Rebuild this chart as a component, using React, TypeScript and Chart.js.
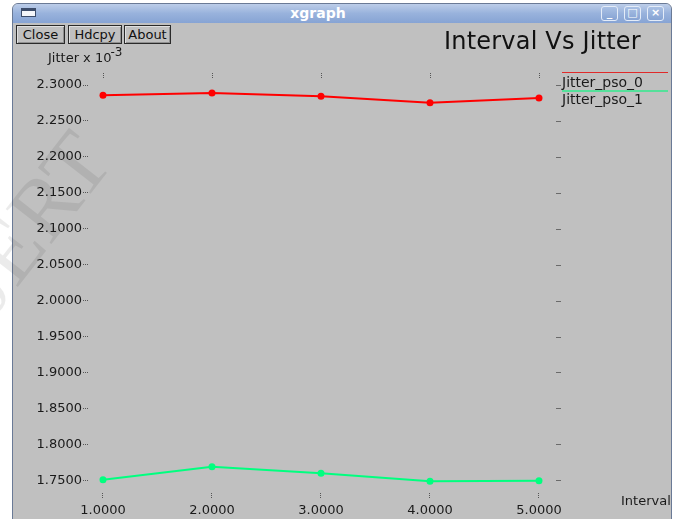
import React, { useEffect, useRef } from "react";
import { Chart, registerables } from "chart.js";

Chart.register(...registerables);

// ---- data ----
const intervals = [1, 2, 3, 4, 5];
const jitterPso0 = [2.2857, 2.2889, 2.2843, 2.2754, 2.2819];
const jitterPso1 = [1.7508, 1.7689, 1.7597, 1.7486, 1.7494];
const seriesNames = ["Jitter_pso_0", "Jitter_pso_1"];
const seriesColors = ["#ff0000", "#00ff7f"];
const xTicks = [1, 2, 3, 4, 5];
const yTicks = [1.75, 1.8, 1.85, 1.9, 1.95, 2.0, 2.05, 2.1, 2.15, 2.2, 2.25, 2.3];

const FONT = "'DejaVu Sans', 'Liberation Sans', sans-serif";

const frameTicks = {
  id: "frameTicks",
  afterDraw(chart: any) {
    const { ctx, chartArea, scales } = chart;
    ctx.save();
    ctx.lineWidth = 1;
    ctx.strokeStyle = "#555";
    ctx.setLineDash([1, 1]);
    for (const v of xTicks) {
      const px = Math.round(scales.x.getPixelForValue(v)) + 0.5;
      ctx.beginPath();
      ctx.moveTo(px, chartArea.top);
      ctx.lineTo(px, chartArea.top + 5);
      ctx.stroke();
    }
    ctx.strokeStyle = "#6a6a6a";
    ctx.setLineDash([]);
    for (const v of yTicks) {
      const py = Math.round(scales.y.getPixelForValue(v)) + 0.5;
      ctx.beginPath();
      ctx.moveTo(chartArea.right + 1, py);
      ctx.lineTo(chartArea.right + 6, py);
      ctx.stroke();
    }
    ctx.restore();
  },
};

function Plot() {
  const ref = useRef<HTMLCanvasElement | null>(null);
  useEffect(() => {
    if (!ref.current) return;
    const series = [jitterPso0, jitterPso1];
    const chart = new Chart(ref.current, {
      type: "line",
      data: {
        datasets: series.map((vals, si) => ({
          label: seriesNames[si],
          data: intervals.map((x, i) => ({ x, y: vals[i] })),
          borderColor: seriesColors[si],
          backgroundColor: seriesColors[si],
          borderWidth: 2,
          pointRadius: 3.5,
          pointBorderWidth: 0,
          tension: 0,
        })),
      },
      options: {
        responsive: false,
        animation: false,
        events: [],
        layout: { padding: { left: 0, top: 51, right: 115, bottom: 0 } },
        plugins: {
          legend: { display: false },
          title: { display: false },
          tooltip: { enabled: false },
        },
        scales: {
          x: {
            type: "linear",
            min: 0.87156,
            max: 5.14679,
            afterBuildTicks: (s: any) => {
              s.ticks = xTicks.map((v) => ({ value: v }));
            },
            afterFit: (s: any) => {
              s.height = 26;
            },
            ticks: {
              callback: (v: any) => Number(v).toFixed(4),
              font: { family: FONT, size: 13 },
              color: "#1a1a1a",
              padding: 4,
              maxRotation: 0,
              autoSkip: false,
            },
            grid: {
              drawOnChartArea: false,
              drawTicks: true,
              tickLength: 6,
              tickColor: "#555",
              tickBorderDash: [1, 1],
            },
            border: { display: false },
          },
          y: {
            type: "linear",
            min: 1.73233,
            max: 2.3167,
            afterBuildTicks: (s: any) => {
              s.ticks = yTicks.map((v) => ({ value: v }));
            },
            afterFit: (s: any) => {
              s.width = 76;
            },
            ticks: {
              callback: (v: any) => Number(v).toFixed(4),
              font: { family: FONT, size: 13 },
              color: "#1a1a1a",
              padding: 1,
              autoSkip: false,
            },
            grid: {
              drawOnChartArea: false,
              drawTicks: true,
              tickLength: 6,
              tickColor: "#555",
              tickBorderDash: [1, 1],
            },
            border: { display: false },
          },
        },
      },
      plugins: [frameTicks],
    } as any);
    return () => chart.destroy();
  }, []);
  return (
    <canvas
      ref={ref}
      width={657}
      height={497}
      style={{ position: "absolute", left: 13, top: 22, width: 657, height: 497 }}
    />
  );
}

const abs = (o: React.CSSProperties): React.CSSProperties => ({ position: "absolute", ...o });

function Btn({ left, width, label }: { left: number; width: number; label: string }) {
  return (
    <div
      style={abs({
        left,
        top: 25,
        width,
        height: 19,
        boxSizing: "border-box",
        border: "1px solid #2a2a2a",
        boxShadow: "inset 1px 1px 0 #e0e0e0, inset -1px -1px 0 #909090",
        background: "#c0c0c0",
        font: `13px ${FONT}`,
        lineHeight: "17px",
        textAlign: "center",
        color: "#111",
      })}
    >
      {label}
    </div>
  );
}

function WinBtn({ left, glyph }: { left: number; glyph: string }) {
  return (
    <div
      style={abs({
        left,
        top: 6,
        width: 17,
        height: 15,
        boxSizing: "border-box",
        border: "1px solid #e4ecf8",
        borderRadius: 3,
        background: "linear-gradient(#a9c0e4, #86a3d3)",
        color: "#fff",
        font: `bold 11px ${FONT}`,
        lineHeight: "12px",
        textAlign: "center",
      })}
    >
      {glyph}
    </div>
  );
}

export default function App() {
  return (
    <div style={abs({ left: 0, top: 0, width: 676, height: 519, overflow: "hidden", background: "#fff" })}>
      {/* window frame */}
      <div
        style={abs({
          left: 12,
          top: 3,
          width: 660,
          height: 530,
          boxSizing: "border-box",
          border: "1px solid #6a7a96",
          borderRadius: "6px 6px 0 0",
          background: "#c0c0c0",
          overflow: "hidden",
        })}
      >
        <div
          style={abs({
            left: 0,
            top: 0,
            width: 658,
            height: 19,
            background: "linear-gradient(#bccde9, #98b2dc 50%, #87a4d4)",
          })}
        />
      </div>
      {/* title bar content */}
      <div
        style={abs({
          left: 21,
          top: 8,
          width: 15,
          height: 9,
          boxSizing: "border-box",
          border: "1px solid #3c4c6a",
          borderTop: "3px solid #3c4c6a",
          background: "#f4f6fa",
        })}
      />
      <div
        style={abs({
          left: 38,
          top: 5,
          width: 560,
          textAlign: "center",
          font: `bold 14px ${FONT}`,
          lineHeight: "16px",
          color: "#fff",
        })}
      >
        xgraph
      </div>
      <WinBtn left={601} glyph="_" />
      <WinBtn left={624} glyph="□" />
      <WinBtn left={647} glyph="×" />

      {/* xgraph buttons */}
      <Btn left={16} width={49} label="Close" />
      <Btn left={68} width={54} label="Hdcpy" />
      <Btn left={124} width={47} label="About" />

      {/* chart */}
      <Plot />

      {/* titles and labels */}
      <div style={abs({ left: 444, top: 29, font: `24px ${FONT}`, lineHeight: "24px", color: "#111", whiteSpace: "nowrap", letterSpacing: 0.2 })}>
        Interval Vs Jitter
      </div>
      <div style={abs({ left: 48, top: 51, font: `13px ${FONT}`, lineHeight: "13px", color: "#1a1a1a", whiteSpace: "nowrap" })}>
        Jitter x 10
        <span style={{ position: "relative", top: -6, fontSize: 12, marginLeft: -1 }}>-3</span>
      </div>
      <div style={abs({ left: 621, top: 494, font: `13px ${FONT}`, lineHeight: "13px", color: "#1a1a1a", whiteSpace: "nowrap" })}>
        Interval
      </div>

      {/* legend */}
      <div style={abs({ left: 562, top: 75, font: `14px ${FONT}`, lineHeight: "14px", color: "#1a1a1a", whiteSpace: "nowrap" })}>
        {seriesNames[0]}
      </div>
      <div style={abs({ left: 562, top: 72, width: 106, height: 1, background: "#e02a2a" })} />
      <div style={abs({ left: 562, top: 92, font: `14px ${FONT}`, lineHeight: "14px", color: "#1a1a1a", whiteSpace: "nowrap" })}>
        {seriesNames[1]}
      </div>
      <div style={abs({ left: 562, top: 90, width: 106, height: 2, background: "#55e09a" })} />

      {/* faint watermark from the scanned source */}
      <div
        style={abs({
          left: -292,
          top: 82,
          width: 420,
          height: 90,
          textAlign: "right",
          font: `88px 'Liberation Serif', serif`,
          lineHeight: "90px",
          color: "rgba(0,0,0,0.08)",
          transformOrigin: "right bottom",
          transform: "rotate(-52deg)",
          pointerEvents: "none",
          whiteSpace: "nowrap",
        })}
      >
        IJERT
      </div>
    </div>
  );
}
